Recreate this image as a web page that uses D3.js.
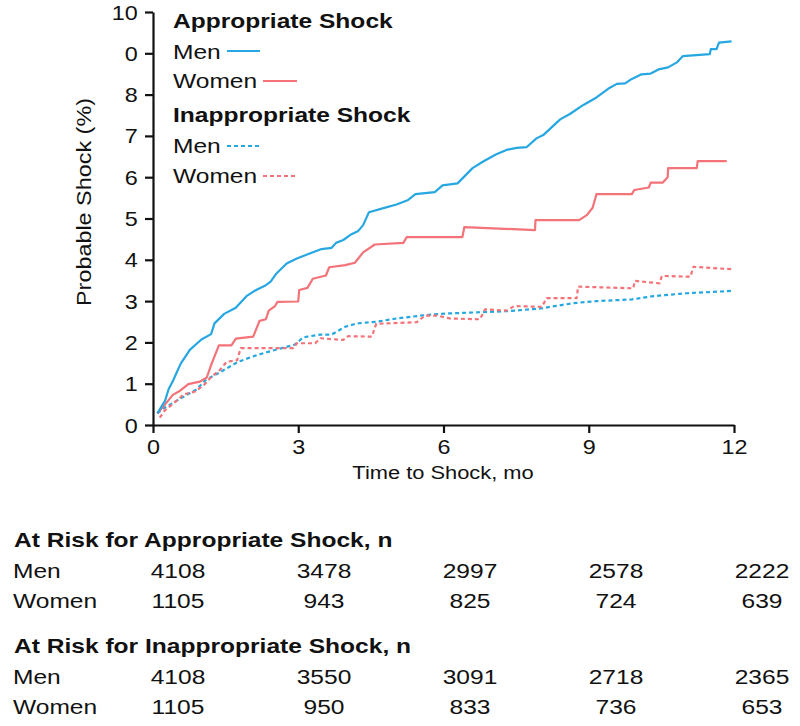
<!DOCTYPE html>
<html><head><meta charset="utf-8">
<script src="https://cdn.jsdelivr.net/npm/d3@7"></script>
<style>body{margin:0;background:#fff}svg{display:block;font-family:"Liberation Sans",Arial,Helvetica,sans-serif}</style>
</head><body><svg id="c" width="800" height="726"></svg>
<script>
// ---- data ----
const yTickValues = [0,1,2,3,4,5,6,7,8,9,10];
const yTickLabels = ["0","1","2","3","4","5","6","7","8","0","10"];
const xTickValues = [0,3,6,9,12];

const menAppropriate = [[0.09,0.28],[0.25,0.59],[0.32,0.86],[0.42,1.09],[0.57,1.48],[0.76,1.82],[1.0,2.07],[1.2,2.2],[1.27,2.46],[1.47,2.69],[1.71,2.84],[1.93,3.12],[2.13,3.27],[2.31,3.37],[2.43,3.47],[2.55,3.67],[2.76,3.91],[2.97,4.03],[3.21,4.14],[3.48,4.26],[3.69,4.29],[3.78,4.41],[3.93,4.48],[4.10,4.62],[4.24,4.70],[4.34,4.84],[4.46,5.15],[4.76,5.25],[5.03,5.34],[5.27,5.45],[5.42,5.59],[5.82,5.64],[5.98,5.80],[6.29,5.85],[6.6,6.22],[6.82,6.38],[7.08,6.55],[7.30,6.66],[7.51,6.71],[7.72,6.73],[7.92,6.94],[8.06,7.02],[8.41,7.40],[8.61,7.53],[8.89,7.75],[9.16,7.93],[9.40,8.14],[9.58,8.26],[9.75,8.27],[9.89,8.38],[10.09,8.49],[10.28,8.51],[10.44,8.61],[10.64,8.66],[10.82,8.78],[10.94,8.93],[11.5,8.98],[11.52,9.10],[11.64,9.10],[11.69,9.26],[11.95,9.29]];
const womenAppropriate = [[0.09,0.28],[0.25,0.50],[0.41,0.73],[0.56,0.83],[0.73,0.99],[0.97,1.05],[1.11,1.15],[1.21,1.48],[1.36,1.93],[1.62,1.93],[1.71,2.09],[2.07,2.14],[2.20,2.52],[2.33,2.56],[2.39,2.77],[2.52,2.88],[2.57,2.98],[3.0,2.99],[3.02,3.27],[3.19,3.32],[3.3,3.54],[3.57,3.62],[3.64,3.82],[3.97,3.87],[4.17,3.93],[4.34,4.18],[4.58,4.37],[5.17,4.41],[5.24,4.55],[6.39,4.55],[6.43,4.79],[7.89,4.72],[7.90,4.96],[8.80,4.96],[8.96,5.08],[9.08,5.26],[9.16,5.59],[9.89,5.59],[9.94,5.69],[10.24,5.75],[10.28,5.87],[10.53,5.87],[10.63,6.0],[10.64,6.22],[11.23,6.22],[11.25,6.39],[11.85,6.39]];
const menInappropriate = [[0.09,0.28],[0.21,0.40],[0.42,0.54],[0.70,0.73],[0.9,0.86],[1.09,1.09],[1.28,1.21],[1.52,1.37],[1.76,1.53],[2.04,1.65],[2.31,1.75],[2.66,1.86],[2.93,1.95],[3.10,2.12],[3.45,2.19],[3.69,2.19],[3.97,2.38],[4.21,2.46],[4.62,2.50],[5.03,2.58],[5.62,2.66],[6.07,2.70],[6.75,2.73],[7.37,2.76],[7.99,2.82],[8.68,2.95],[9.16,3.0],[9.89,3.04],[10.33,3.12],[11.02,3.19],[12.0,3.25]];
const womenInappropriate = [[0.14,0.18],[0.25,0.36],[0.49,0.59],[0.63,0.74],[0.87,0.81],[1.07,0.99],[1.21,1.17],[1.38,1.33],[1.52,1.53],[1.74,1.57],[1.81,1.86],[2.90,1.86],[2.97,1.98],[3.35,1.98],[3.46,2.10],[3.93,2.06],[4.03,2.15],[4.52,2.14],[4.61,2.45],[5.45,2.49],[5.62,2.65],[5.86,2.65],[6.13,2.58],[6.75,2.56],[6.86,2.80],[7.30,2.77],[7.46,2.88],[8.03,2.86],[8.13,3.07],[8.75,3.07],[8.78,3.35],[9.92,3.31],[9.95,3.49],[10.46,3.43],[10.51,3.61],[11.1,3.59],[11.16,3.83],[11.44,3.81],[11.98,3.77]];

const riskTimes = [0,3,6,9,12];
const riskAppMen = [4108,3478,2997,2578,2222];
const riskAppWomen = [1105,943,825,724,639];
const riskInappMen = [4108,3550,3091,2718,2365];
const riskInappWomen = [1105,950,833,736,653];

// ---- drawing ----
const BLUE = "#27a7e1", RED = "#f37378", SX = 1.17;
const svg = d3.select("#c");
const x = d3.scaleLinear().domain([0,12]).range([153,734]);
const y = d3.scaleLinear().domain([0,10]).range([425,12]);

function txt(xp, yp, s, size, opts={}){
  const t = svg.append("text")
    .attr("transform", `translate(${xp},${yp})${opts.rotate?` rotate(${opts.rotate})`:""} scale(${opts.sx||SX},1)`)
    .attr("text-anchor", opts.anchor||"start")
    .attr("fill","#111").style("font-size", size+"px")
    .style("font-weight", opts.bold?"bold":"normal").text(s);
  return t;
}

const xAxis = svg.append("g").attr("transform","translate(0,425)")
  .call(d3.axisBottom(x).tickValues(xTickValues).tickSize(8).tickPadding(5).tickSizeOuter(0));
const yAxis = svg.append("g").attr("transform","translate(153,0)")
  .call(d3.axisLeft(y).tickValues(yTickValues).tickFormat((d,i)=>yTickLabels[i]).tickSize(8).tickPadding(5).tickSizeOuter(0));
[xAxis,yAxis].forEach(g=>{
  g.selectAll(".domain").attr("stroke","#111").attr("stroke-width",2.2);
  g.selectAll(".tick line").attr("stroke","#111").attr("stroke-width",2.2);
  g.selectAll(".tick text").attr("fill","#111").style("font-size","20px")
    .style("font-family","Liberation Sans, Arial, sans-serif").attr("transform",`scale(${SX},1)`);
});
xAxis.selectAll(".tick text").attr("dy","0.8em");
yAxis.selectAll(".tick text").attr("dy","0.35em");

txt(443, 479, "Time to Shock, mo", 19, {anchor:"middle", sx:1.15});
txt(91, 202, "Probable Shock (%)", 20, {anchor:"middle", rotate:-90});

const line = d3.line().x(d=>x(d[0])).y(d=>y(d[1]));
const series = [
  {data:menInappropriate,color:BLUE,dash:"4,3"},
  {data:womenInappropriate,color:RED,dash:"4,3"},
  {data:womenAppropriate,color:RED,dash:null},
  {data:menAppropriate,color:BLUE,dash:null}
];
series.forEach(s=>{
  svg.append("path").datum(s.data).attr("d",line).attr("fill","none")
    .attr("stroke",s.color).attr("stroke-width",2.2).attr("stroke-linejoin","round")
    .attr("stroke-dasharray",s.dash);
});

// legend
const legendItems = [
  {t:"Appropriate Shock",bold:true,y:28},
  {t:"Men",y:59,color:BLUE,dash:null,x1:227,x2:260,ly:51},
  {t:"Women",y:88,color:RED,dash:null,x1:263,x2:297,ly:81},
  {t:"Inappropriate Shock",bold:true,y:122},
  {t:"Men",y:153,color:BLUE,dash:"4,3",x1:227,x2:260,ly:146},
  {t:"Women",y:183,color:RED,dash:"4,3",x1:263,x2:297,ly:176}
];
legendItems.forEach(d=>{
  txt(173, d.y, d.t, 21, {bold:d.bold});
  if(d.color){
    svg.append("line").attr("x1",d.x1).attr("x2",d.x2).attr("y1",d.ly).attr("y2",d.ly)
      .attr("stroke",d.color).attr("stroke-width",2.2).attr("stroke-dasharray",d.dash);
  }
});

// at-risk tables
const cx = d3.scalePoint().domain(riskTimes).range([178,762]);
function table(title, ty, men, women){
  txt(14, ty, title, 21, {bold:true});
  [["Men",men,ty+31],["Women",women,ty+61]].forEach(r=>{
    txt(13, r[2], r[0], 21);
    r[1].forEach((v,i)=>txt(cx(riskTimes[i]), r[2], v, 21, {anchor:"middle"}));
  });
}
table("At Risk for Appropriate Shock, n",547,riskAppMen,riskAppWomen);
table("At Risk for Inappropriate Shock, n",653,riskInappMen,riskInappWomen);
</script></body></html>
